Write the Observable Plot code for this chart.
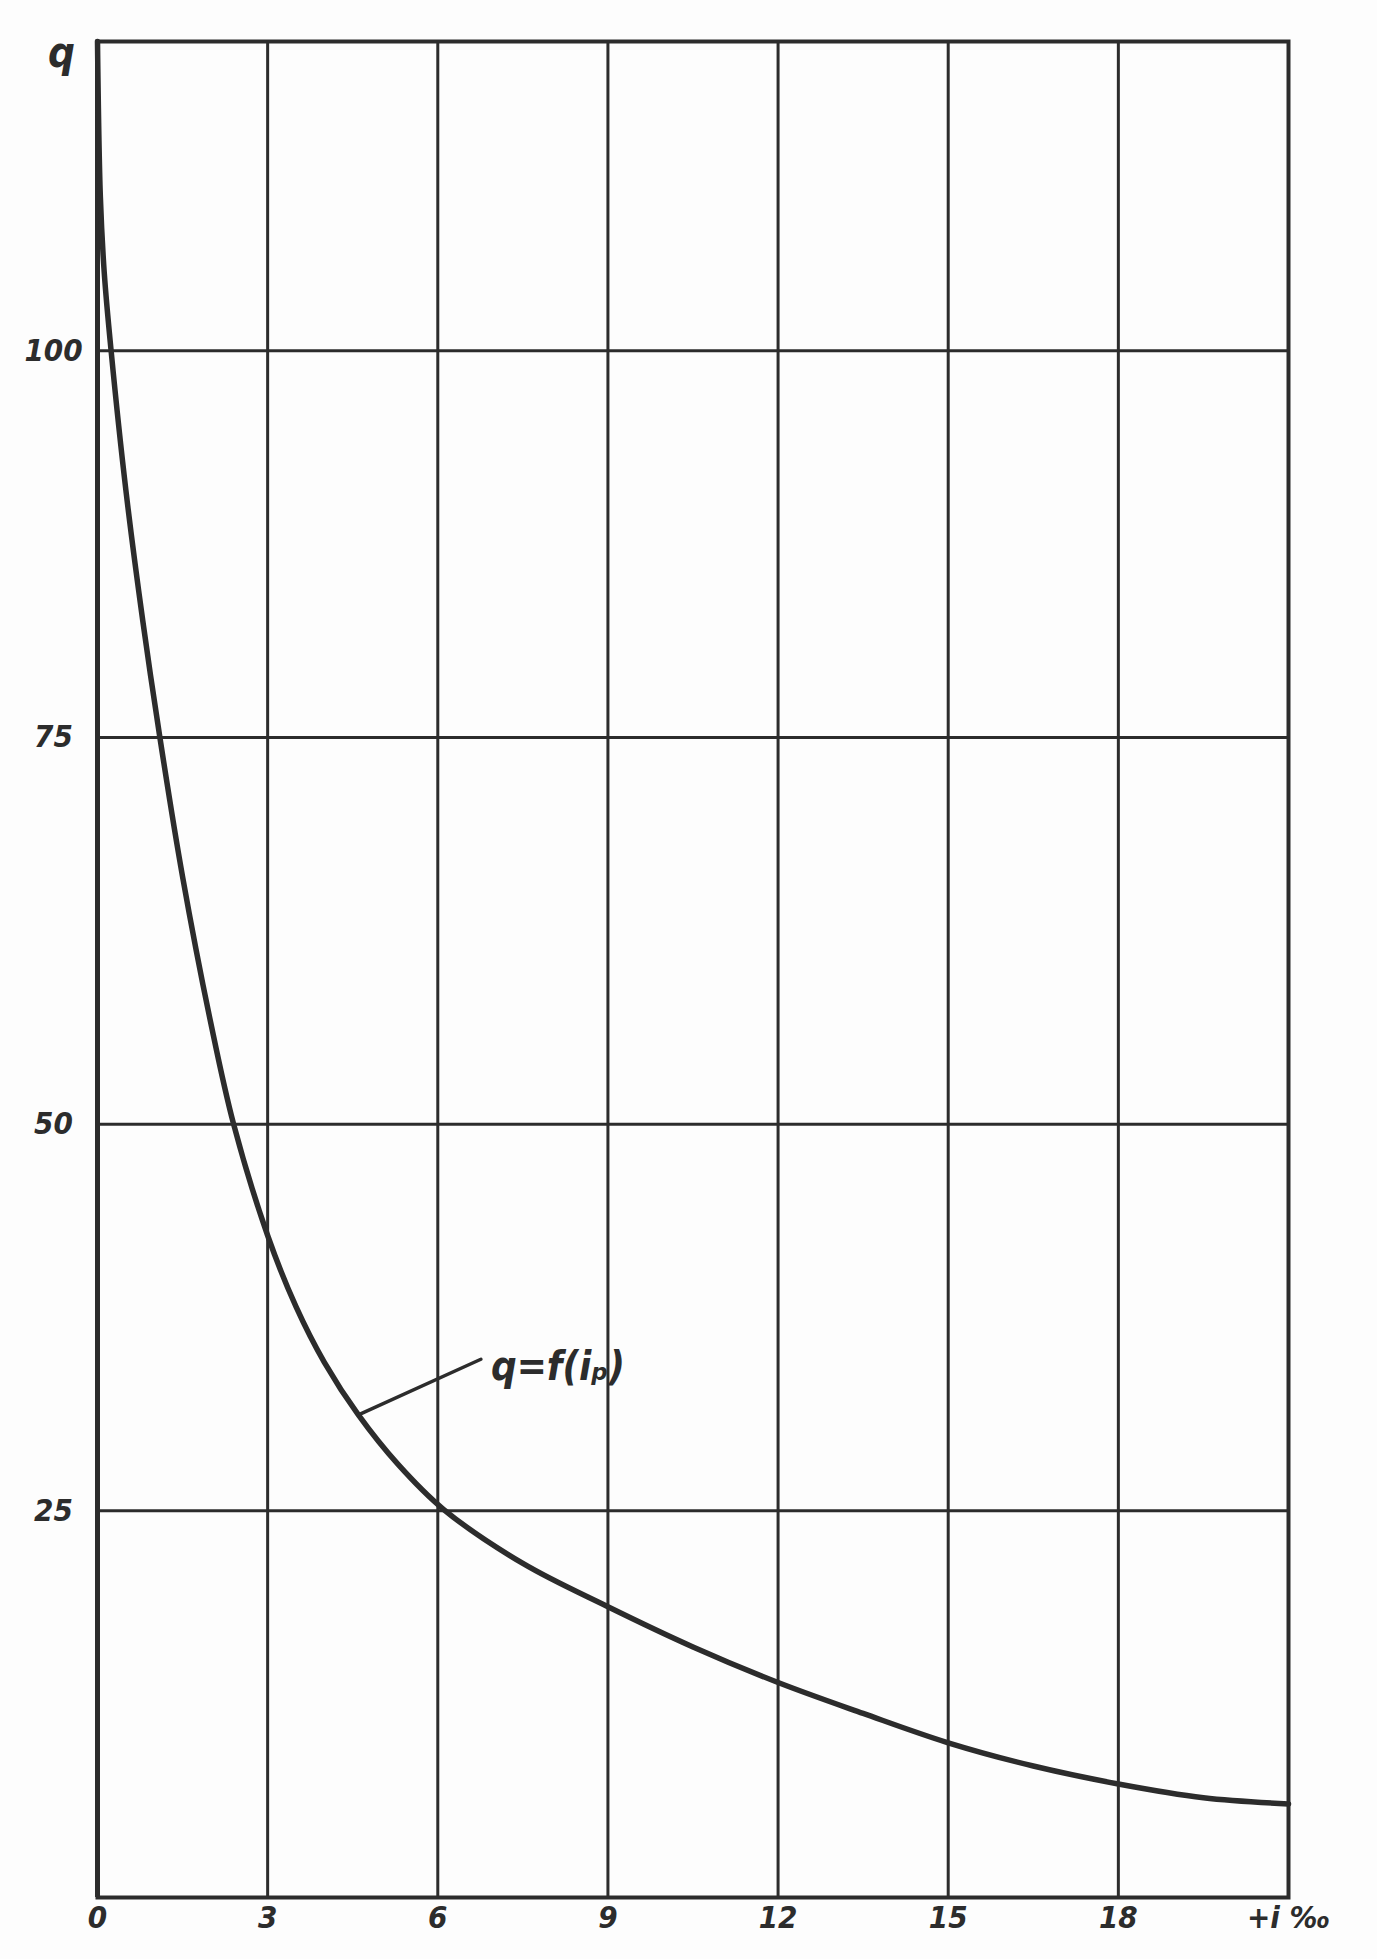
<!DOCTYPE html>
<html>
<head>
<meta charset="utf-8">
<script src="https://cdn.jsdelivr.net/npm/d3@7"></script>
<script src="https://cdn.jsdelivr.net/npm/@observablehq/plot@0.6"></script>
<style>
  html, body { margin: 0; padding: 0; background: #fdfdfd; }
  #chart svg { display: block; }
</style>
</head>
<body>
<div id="chart"></div>
<script>
// ---- data ----
const slopeI = [0, 0.05, 0.12, 0.24, 0.5, 0.8, 1.1, 1.5, 2.0, 2.4, 3.0, 3.5, 4.0, 4.6, 5.3, 6.1, 7.5, 9.0, 10.5, 12.0, 13.5, 15.0, 16.5, 18.0, 19.5, 21.0];
const flowQ  = [120, 110, 105, 100, 91, 82.5, 75, 66, 56.5, 50, 42.8, 38.2, 34.6, 31.2, 28.0, 25.1, 21.6, 18.8, 16.2, 13.9, 11.9, 10.0, 8.5, 7.34, 6.45, 6.05];

const xTicks = [0, 3, 6, 9, 12, 15, 18, 21];
const xTickLabels = ["0", "3", "6", "9", "12", "15", "18", "+i ‰"];
const yTicks = [25, 50, 75, 100];
const yTickLabels = ["25", "50", "75", "100"];
const yMax = 120;
const yName = "q";

const curveLabel = "q=f(iₚ)";
const leaderI = [4.6, 6.76];
const leaderQ = [31.2, 34.8];

// ---- build ----
const curve = slopeI.map((d, k) => ({i: d, q: flowQ[k]}));
const leader = leaderI.map((d, k) => ({i: d, q: leaderQ[k]}));

const ink = "#2c2c2c";
const font = "'DejaVu Sans Condensed', 'DejaVu Sans', sans-serif";

const chart = Plot.plot({
  width: 1377,
  height: 1959,
  marginLeft: 97,
  marginRight: 89,
  marginTop: 41,
  marginBottom: 62,
  style: {background: "#fdfdfd", fontFamily: font},
  x: {domain: [0, 21]},
  y: {domain: [0, yMax]},
  marks: [
    Plot.ruleX(xTicks, {x: d => d, y1: 0, y2: yMax, stroke: ink, strokeWidth: 3}),
    Plot.ruleY(yTicks, {y: d => d, x1: 0, x2: 21, stroke: ink, strokeWidth: 3}),
    Plot.frame({stroke: ink, strokeWidth: 4}),
    Plot.ruleX([0], {y1: 0, y2: yMax, stroke: ink, strokeWidth: 5}),
    Plot.line(curve, {x: "i", y: "q", curve: "catmull-rom", stroke: ink, strokeWidth: 5.5, strokeLinecap: "round"}),
    Plot.line(leader, {x: "i", y: "q", stroke: ink, strokeWidth: 3.5}),
    Plot.text([curveLabel], {x: leaderI[1], y: leaderQ[1], text: d => d, textAnchor: "start", dx: 10, dy: 8,
      fontSize: 40, fontStyle: "italic", fontWeight: 600, fill: ink, fontFamily: font}),
    Plot.axisX({ticks: xTicks, tickFormat: d => xTickLabels[xTicks.indexOf(d)], tickSize: 0, tickPadding: 8,
      label: null, fontSize: 31, fontStyle: "italic", fontWeight: 600, fill: ink, fontFamily: font}),
    Plot.axisY({ticks: yTicks, tickFormat: d => yTickLabels[yTicks.indexOf(d)], tickSize: 0, tickPadding: 44,
      textAnchor: "middle", label: null, fontSize: 31, fontStyle: "italic", fontWeight: 600, fill: ink, fontFamily: font}),
    Plot.text([yName], {x: 0, y: yMax, text: d => d, dx: -36, dy: 12, fontSize: 42, fontStyle: "italic",
      fontWeight: 600, fill: ink, fontFamily: font})
  ]
});

document.getElementById("chart").appendChild(chart);
</script>
</body>
</html>
